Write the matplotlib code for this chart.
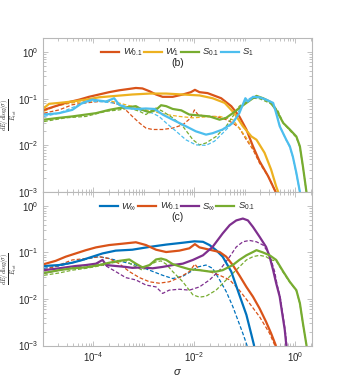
import numpy as np
import matplotlib
matplotlib.use("Agg")
import matplotlib.pyplot as plt
from matplotlib.ticker import LogLocator, NullFormatter, FixedLocator

plt.rcParams['font.family'] = ['Liberation Sans', 'DejaVu Sans']
plt.rcParams['mathtext.fontset'] = 'custom'
plt.rcParams['mathtext.it'] = 'Liberation Sans:italic'
plt.rcParams['mathtext.rm'] = 'Liberation Sans'

# ---------------- data (log10 sigma, log10 dE/dlog(sigma)/E_tot) -------------
# Panel (b)
b_w01_x = [-4.98,-4.81,-4.55,-4.28,-4.09,-3.89,-3.69,-3.49,-3.29,-3.16,-3.03,-2.89,-2.76,-2.63,-2.43,-2.23,-2.07,-1.99,-1.90,-1.74,-1.47,-1.27,-1.11,-0.97,-0.84,-0.71,-0.54,-0.39,-0.36]
b_w01_y = [-1.24,-1.18,-1.09,-1.02,-0.96,-0.91,-0.86,-0.82,-0.79,-0.77,-0.78,-0.84,-0.91,-0.96,-0.96,-0.91,-0.86,-0.81,-0.86,-0.88,-0.99,-1.16,-1.38,-1.66,-2.02,-2.34,-2.66,-3.00,-3.20]
b_w1_x = [-4.98,-4.88,-4.68,-4.42,-4.15,-3.89,-3.56,-3.23,-2.89,-2.56,-2.23,-1.90,-1.64,-1.40,-1.21,-1.04,-0.87,-0.77,-0.61,-0.48,-0.38,-0.34,-0.32]
b_w1_y = [-1.20,-1.11,-1.09,-1.06,-1.02,-0.97,-0.94,-0.91,-0.89,-0.89,-0.91,-0.93,-0.99,-1.09,-1.31,-1.59,-1.81,-1.88,-2.16,-2.52,-2.88,-3.00,-3.20]
b_s01_x = [-4.98,-4.68,-4.42,-4.15,-3.95,-3.69,-3.49,-3.29,-3.16,-3.03,-2.89,-2.76,-2.66,-2.56,-2.43,-2.26,-2.10,-1.90,-1.70,-1.50,-1.37,-1.24,-1.11,-0.97,-0.84,-0.77,-0.64,-0.51,-0.38,-0.24,-0.11,0.02,0.09,0.15,0.22,0.24]
b_s01_y = [-1.45,-1.41,-1.38,-1.34,-1.31,-1.24,-1.20,-1.18,-1.16,-1.24,-1.29,-1.24,-1.14,-1.16,-1.22,-1.25,-1.34,-1.36,-1.38,-1.45,-1.41,-1.31,-1.20,-1.09,-0.99,-0.94,-0.99,-1.06,-1.24,-1.52,-1.66,-1.81,-2.02,-2.45,-3.00,-3.20]
b_s1_x = [-4.98,-4.68,-4.42,-4.22,-4.02,-3.89,-3.75,-3.59,-3.49,-3.36,-3.16,-2.96,-2.79,-2.63,-2.43,-2.17,-1.97,-1.77,-1.64,-1.44,-1.24,-1.11,-0.99,-0.94,-0.84,-0.71,-0.58,-0.44,-0.38,-0.31,-0.18,-0.11,-0.05,0.02,0.09,0.11]
b_s1_y = [-1.34,-1.31,-1.24,-1.09,-1.02,-1.04,-1.06,-0.99,-1.13,-1.20,-1.22,-1.21,-1.22,-1.34,-1.45,-1.59,-1.70,-1.77,-1.74,-1.66,-1.52,-1.31,-0.99,-1.06,-0.96,-0.97,-1.02,-1.09,-1.31,-1.59,-1.88,-2.02,-2.24,-2.59,-3.00,-3.20]
# dashed (b)
b_w01d_x = [-4.98,-4.68,-4.42,-4.15,-3.89,-3.69,-3.49,-3.36,-3.23,-3.09,-2.96,-2.83,-2.63,-2.43,-2.23,-2.07,-2.00,-1.93,-1.77,-1.57,-1.37,-1.24,-1.11,-0.97,-0.84,-0.71,-0.54,-0.39,-0.36]
b_w01d_y = [-1.31,-1.24,-1.13,-1.09,-1.06,-1.06,-1.13,-1.24,-1.38,-1.52,-1.63,-1.66,-1.66,-1.63,-1.56,-1.41,-1.24,-1.34,-1.38,-1.38,-1.45,-1.52,-1.63,-1.88,-2.09,-2.38,-2.66,-3.00,-3.20]
b_w1d_x = [-4.98,-4.75,-4.42,-4.15,-3.89,-3.62,-3.36,-3.09,-2.83,-2.56,-2.30,-2.03,-1.77,-1.50,-1.24,-1.11,-0.97,-0.84,-0.71,-0.54,-0.39,-0.36]
b_w1d_y = [-1.27,-1.16,-1.09,-1.06,-1.04,-1.06,-1.13,-1.20,-1.27,-1.34,-1.38,-1.41,-1.39,-1.38,-1.45,-1.63,-1.84,-2.06,-2.34,-2.66,-3.00,-3.20]
b_s01d_x = [-4.98,-4.55,-4.15,-3.75,-3.49,-3.29,-3.09,-2.96,-2.83,-2.76,-2.63,-2.43,-2.23,-2.03,-1.90,-1.77,-1.57,-1.37,-1.24,-1.11,-0.97,-0.84,-0.71,-0.58,-0.44,-0.34,-0.24,-0.11,0.02,0.09,0.15,0.22,0.24]
b_s01d_y = [-1.49,-1.41,-1.38,-1.27,-1.24,-1.20,-1.27,-1.34,-1.24,-1.20,-1.27,-1.41,-1.59,-1.88,-1.99,-1.95,-1.81,-1.59,-1.38,-1.16,-1.06,-0.99,-1.00,-1.06,-1.13,-1.27,-1.52,-1.68,-1.83,-2.04,-2.46,-3.00,-3.20]
b_s1d_x = [-4.98,-4.68,-4.35,-4.09,-3.89,-3.62,-3.36,-3.09,-2.83,-2.70,-2.56,-2.36,-2.17,-1.97,-1.77,-1.60,-1.44,-1.24,-1.11,-0.97,-0.84,-0.64,-0.51,-0.43,-0.37,-0.30,-0.18,-0.11,-0.05,0.02,0.09,0.11]
b_s1d_y = [-1.38,-1.31,-1.16,-1.06,-1.06,-1.09,-1.16,-1.24,-1.31,-1.38,-1.52,-1.70,-1.88,-1.99,-2.00,-1.91,-1.74,-1.52,-1.24,-1.02,-0.97,-0.99,-1.06,-1.13,-1.34,-1.61,-1.89,-2.04,-2.25,-2.61,-3.00,-3.20]

# Panel (c)
c_winf_x = [-4.98,-4.68,-4.42,-4.22,-4.02,-3.82,-3.56,-3.23,-2.89,-2.56,-2.23,-2.00,-1.83,-1.70,-1.57,-1.44,-1.27,-1.11,-0.97,-0.87,-0.82,-0.80]
c_winf_y = [-1.29,-1.27,-1.22,-1.16,-1.09,-1.02,-0.96,-0.94,-0.88,-0.83,-0.79,-0.76,-0.77,-0.84,-0.95,-1.09,-1.41,-1.91,-2.34,-2.77,-2.99,-3.20]
c_w01_x = [-4.98,-4.75,-4.55,-4.35,-4.15,-3.95,-3.69,-3.42,-3.16,-2.96,-2.76,-2.56,-2.30,-2.10,-1.99,-1.90,-1.70,-1.50,-1.37,-1.24,-1.11,-0.97,-0.84,-0.71,-0.58,-0.48,-0.39,-0.36]
c_w01_y = [-1.25,-1.18,-1.09,-1.02,-0.95,-0.89,-0.84,-0.81,-0.78,-0.84,-0.94,-0.99,-0.96,-0.91,-0.82,-0.89,-0.94,-0.99,-1.09,-1.27,-1.49,-1.74,-1.95,-2.20,-2.49,-2.74,-2.99,-3.20]
c_sinf_x = [-4.98,-4.75,-4.55,-4.35,-4.15,-3.95,-3.82,-3.75,-3.56,-3.36,-3.23,-3.03,-2.83,-2.63,-2.43,-2.23,-2.03,-1.83,-1.64,-1.44,-1.30,-1.17,-1.04,-0.94,-0.84,-0.71,-0.58,-0.51,-0.44,-0.38,-0.31,-0.26,-0.21,-0.18,-0.16]
c_sinf_y = [-1.38,-1.35,-1.32,-1.29,-1.27,-1.24,-1.16,-1.27,-1.29,-1.31,-1.33,-1.32,-1.34,-1.31,-1.27,-1.24,-1.16,-1.06,-0.88,-0.59,-0.41,-0.31,-0.27,-0.31,-0.45,-0.66,-0.88,-1.09,-1.38,-1.66,-1.95,-2.31,-2.66,-2.99,-3.20]
c_s01_x = [-4.98,-4.68,-4.42,-4.15,-3.89,-3.69,-3.49,-3.29,-3.16,-3.03,-2.89,-2.76,-2.66,-2.56,-2.43,-2.26,-2.10,-1.90,-1.70,-1.57,-1.44,-1.24,-1.11,-0.97,-0.84,-0.77,-0.64,-0.51,-0.38,-0.24,-0.11,0.02,0.09,0.15,0.22,0.24]
c_s01_y = [-1.44,-1.38,-1.34,-1.32,-1.27,-1.22,-1.18,-1.15,-1.24,-1.32,-1.27,-1.15,-1.13,-1.16,-1.25,-1.31,-1.36,-1.38,-1.41,-1.41,-1.38,-1.27,-1.16,-1.06,-0.99,-0.95,-1.00,-1.06,-1.16,-1.41,-1.63,-1.81,-2.09,-2.52,-2.99,-3.20]
# dashed (c)
c_winfd_x = [-4.98,-4.68,-4.35,-4.09,-3.89,-3.69,-3.42,-3.16,-2.89,-2.63,-2.43,-2.23,-2.07,-1.93,-1.77,-1.64,-1.50,-1.37,-1.24,-1.14,-1.04,-0.96,-0.93]
c_winfd_y = [-1.34,-1.29,-1.20,-1.13,-1.09,-1.13,-1.20,-1.27,-1.38,-1.49,-1.56,-1.51,-1.41,-1.31,-1.27,-1.34,-1.59,-1.84,-2.16,-2.45,-2.74,-2.99,-3.20]
c_w01d_x = [-4.98,-4.68,-4.42,-4.15,-3.89,-3.69,-3.49,-3.29,-3.09,-2.89,-2.70,-2.50,-2.30,-2.10,-1.99,-1.90,-1.70,-1.50,-1.30,-1.11,-0.91,-0.71,-0.51,-0.41,-0.38]
c_w01d_y = [-1.38,-1.27,-1.16,-1.13,-1.09,-1.13,-1.24,-1.41,-1.54,-1.63,-1.66,-1.63,-1.54,-1.41,-1.25,-1.38,-1.41,-1.49,-1.59,-1.81,-2.09,-2.38,-2.74,-2.99,-3.20]
c_sinfd_x = [-4.98,-4.68,-4.35,-4.09,-3.89,-3.75,-3.56,-3.36,-3.16,-2.96,-2.76,-2.63,-2.50,-2.30,-2.10,-1.90,-1.70,-1.50,-1.30,-1.17,-1.04,-0.91,-0.77,-0.64,-0.54,-0.48,-0.41,-0.36,-0.30,-0.25,-0.20,-0.17,-0.15]
c_sinfd_y = [-1.45,-1.38,-1.31,-1.27,-1.24,-1.29,-1.41,-1.54,-1.59,-1.70,-1.74,-1.88,-1.81,-1.79,-1.81,-1.74,-1.59,-1.38,-1.09,-0.88,-0.77,-0.74,-0.77,-0.84,-0.99,-1.16,-1.41,-1.70,-1.96,-2.32,-2.68,-2.99,-3.20]
c_s01d_x = [-4.98,-4.68,-4.42,-4.15,-3.89,-3.62,-3.36,-3.16,-3.03,-2.89,-2.76,-2.66,-2.56,-2.43,-2.23,-2.03,-1.90,-1.77,-1.57,-1.37,-1.24,-1.11,-0.97,-0.84,-0.71,-0.58,-0.48,-0.38,-0.24,-0.11,0.02,0.09,0.15,0.22,0.24]
c_s01d_y = [-1.49,-1.44,-1.38,-1.34,-1.29,-1.22,-1.18,-1.31,-1.38,-1.27,-1.20,-1.18,-1.25,-1.41,-1.63,-1.91,-1.96,-1.94,-1.81,-1.59,-1.45,-1.31,-1.16,-1.09,-1.06,-1.09,-1.16,-1.18,-1.43,-1.64,-1.82,-2.10,-2.53,-2.99,-3.20]

# colours (MATLAB default order)
C_BLUE, C_RED, C_YEL, C_PUR, C_GRN, C_CYAN = '#0072BD', '#D95319', '#EDB120', '#7E2F8E', '#77AC30', '#4DBEEE'

panel_b = [
    (r'$W_{\mathit{0.1}}$', C_RED, (b_w01_x, b_w01_y), (b_w01d_x, b_w01d_y)),
    (r'$W_{\mathit{1}}$', C_YEL, (b_w1_x, b_w1_y), (b_w1d_x, b_w1d_y)),
    (r'$S_{\mathit{0.1}}$', C_GRN, (b_s01_x, b_s01_y), (b_s01d_x, b_s01d_y)),
    (r'$S_{\mathit{1}}$', C_CYAN, (b_s1_x, b_s1_y), (b_s1d_x, b_s1d_y)),
]
panel_c = [
    (r'$W_{\infty}$', C_BLUE, (c_winf_x, c_winf_y), (c_winfd_x, c_winfd_y)),
    (r'$W_{\mathit{0.1}}$', C_RED, (c_w01_x, c_w01_y), (c_w01d_x, c_w01d_y)),
    (r'$S_{\infty}$', C_PUR, (c_sinf_x, c_sinf_y), (c_sinfd_x, c_sinfd_y)),
    (r'$S_{\mathit{0.1}}$', C_GRN, (c_s01_x, c_s01_y), (c_s01d_x, c_s01d_y)),
]

fig = plt.figure(figsize=(3.45, 3.84), dpi=100)
L, W = 43/345, (312-43)/345
ax_b = fig.add_axes([L, 1-192/384, W, (192-38)/384])
ax_c = fig.add_axes([L, 1-345.5/384, W, (345.5-192)/384])

GRID = '#b8b8b8'
TXT = '#262626'
ylab = r'$\frac{dE/d\log(\sigma)}{E_{tot}}$'

for ax, series, tag in [(ax_b, panel_b, '(b)'), (ax_c, panel_c, '(c)')]:
    handles = []
    for label, col, sol, das in series:
        ax.plot(10**np.array(das[0]), 10**np.array(das[1]), color=col, lw=0.9, ls=(0, (3, 1.6)))
    for label, col, sol, das in series:
        h, = ax.plot(10**np.array(sol[0]), 10**np.array(sol[1]), color=col, lw=1.6, label=label)
        handles.append(h)
    ax.set_xscale('log')
    ax.set_yscale('log')
    ax.set_xlim(10**-5.0, 10**0.33)
    ax.set_ylim(1e-3, 2)
    ax.xaxis.set_major_locator(FixedLocator([1e-4, 1e-2, 1e0]))
    ax.xaxis.set_minor_locator(LogLocator(base=10, subs=np.arange(1, 10), numticks=20))
    ax.xaxis.set_minor_formatter(NullFormatter())
    ax.yaxis.set_major_locator(FixedLocator([1e-3, 1e-2, 1e-1, 1e0]))
    ax.yaxis.set_minor_locator(LogLocator(base=10, subs=np.arange(2, 10), numticks=20))
    ax.yaxis.set_minor_formatter(NullFormatter())
    ax.tick_params(which='both', direction='in', top=True, right=True, colors=GRID,
                   labelcolor=TXT, labelsize=7, width=0.6)
    ax.tick_params(which='major', length=3.5)
    ax.tick_params(which='minor', length=2)
    for sp in ax.spines.values():
        sp.set_color(GRID)
        sp.set_linewidth(0.8)
    ax.text(-0.125, 0.5, ylab, transform=ax.transAxes, rotation=90, ha='center', va='center',
            fontsize=6.5, color=TXT, math_fontfamily='cm')
    leg = ax.legend(handles=handles, ncol=4, loc='center', bbox_to_anchor=(0.5, 1 - 14.7/154),
                    frameon=False, fontsize=6.8, handlelength=1.9, handletextpad=0.35,
                    columnspacing=0.15, borderaxespad=0.0, borderpad=0.0)
    for t in leg.get_texts():
        t.set_color(TXT)
    ax.text(0.5, 1 - 25.5/154, tag, transform=ax.transAxes, ha='center', va='center',
            fontsize=7.5, color=TXT)

ax_b.tick_params(axis='x', labelbottom=False)
ax_c.set_xlabel(r'$\sigma$', fontsize=8, color=TXT, labelpad=2)

fig.savefig('out.png', dpi=100)
